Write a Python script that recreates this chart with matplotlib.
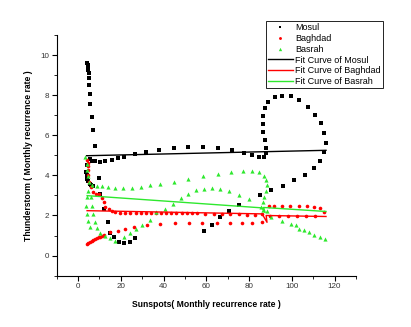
import numpy as np
import matplotlib.pyplot as plt

plt.rcParams['font.family'] = ['Liberation Sans', 'DejaVu Sans']

# Mosul (black squares)
mosul_x = [4.4, 4.6, 4.7, 4.8, 4.9, 5.0, 5.2, 5.5, 5.8, 6.4, 7.1, 7.9,
           5.6, 6.7, 8.0, 10.3, 12.6, 15.7, 18.8, 21.7, 26.7, 31.9, 37.9, 44.8,
           51.6, 58.6, 65.5, 71.8, 77.6, 81.4, 84.6, 86.9, 88.1, 88.1, 87.3, 86.6,
           86.3, 86.3, 87.3, 89.0, 92.0, 95.3, 99.4, 103.5, 107.4, 110.8, 113.7, 115.2,
           115.9, 115.2, 113.2, 110.2, 106.0, 101.1, 96.1, 90.4, 85.3, 75.1, 70.4, 66.6,
           62.7, 58.7, 26.8, 24.1, 21.3, 19.0, 16.7, 15.0, 13.8, 12.0, 10.4, 9.6,
           7.2, 6.1, 5.6, 4.8, 4.4, 4.1, 3.6, 4.0]
mosul_y = [9.58, 9.48, 9.38, 9.25, 9.12, 8.88, 8.53, 8.08, 7.55, 6.92, 6.25, 5.47,
           4.82, 4.73, 4.73, 4.68, 4.70, 4.77, 4.87, 4.92, 5.05, 5.15, 5.27, 5.37,
           5.42, 5.40, 5.35, 5.25, 5.13, 5.00, 4.92, 4.93, 5.12, 5.38, 5.75, 6.17,
           6.57, 6.97, 7.35, 7.65, 7.90, 7.98, 7.95, 7.77, 7.43, 7.03, 6.60, 6.12,
           5.63, 5.17, 4.73, 4.35, 4.00, 3.75, 3.47, 3.27, 3.04, 2.54, 2.21, 1.91,
           1.53, 1.21, 0.86, 0.66, 0.61, 0.70, 0.91, 1.11, 1.70, 2.33, 3.07, 3.85,
           3.49, 3.50, 3.57, 3.74, 3.82, 4.00, 4.17, 4.50]

# Baghdad (red circles)
baghdad_x = [4.4, 4.5, 4.6, 4.6, 4.7, 5.2, 6.0, 7.2, 8.6, 9.6, 11.0, 12.0,
             12.8, 14.3, 15.9, 17.5, 19.8, 22.1, 24.5, 26.9, 29.3, 31.7, 34.0, 36.4,
             38.8, 41.2, 43.6, 46.0, 48.4, 50.8, 53.2, 55.6, 59.6, 63.5, 67.4, 71.3,
             75.2, 79.1, 83.0, 86.1, 89.1, 91.8, 95.4, 99.3, 103.2, 107.1, 110.5, 113.4,
             114.9, 111.0, 106.8, 102.4, 98.0, 93.8, 89.9, 86.1, 81.4, 76.7, 71.2, 65.0,
             58.0, 51.7, 45.2, 38.5, 32.3, 26.0, 22.1, 18.7, 15.1, 12.0, 11.2, 10.4,
             9.6, 8.8, 8.0, 7.2, 6.4, 5.6, 4.8, 4.2]
baghdad_y = [4.75, 4.60, 4.45, 4.25, 4.00, 3.67, 3.42, 3.17, 3.05, 3.07, 2.85, 2.66,
             2.44, 2.33, 2.20, 2.15, 2.13, 2.13, 2.13, 2.12, 2.12, 2.12, 2.12, 2.13,
             2.13, 2.13, 2.12, 2.12, 2.12, 2.12, 2.11, 2.10, 2.09, 2.08, 2.07, 2.06,
             2.05, 2.04, 2.03, 2.05, 2.46, 2.46, 2.47, 2.46, 2.46, 2.45, 2.43, 2.38,
             2.16, 1.99, 1.99, 1.99, 1.99, 1.99, 1.99, 1.66, 1.61, 1.61, 1.61, 1.62,
             1.63, 1.63, 1.61, 1.58, 1.53, 1.41, 1.33, 1.25, 1.16, 1.05, 1.00, 0.95,
             0.91, 0.86, 0.82, 0.77, 0.72, 0.67, 0.62, 0.58]

# Basrah (green triangles)
basrah_x = [3.3, 4.0, 4.3, 4.6, 5.3, 6.4, 8.7, 11.2, 14.0, 17.4, 21.0, 25.0,
            29.5, 33.8, 38.2, 44.8, 51.6, 58.6, 65.4, 71.5, 77.2, 81.4, 84.6, 86.9,
            88.1, 88.2, 87.7, 86.9, 86.5, 85.7, 86.5, 88.5, 90.1, 95.4, 99.5, 101.9,
            103.5, 105.8, 108.2, 110.5, 113.4, 115.6,
            79.8, 75.1, 70.4, 66.2, 62.6, 58.8, 55.2, 51.6, 48.1, 44.5, 40.7, 36.6,
            33.5, 29.9, 27.2, 24.5, 21.3, 17.4, 15.0, 12.6, 10.3, 8.7, 8.0, 7.2,
            6.4, 6.1, 4.8, 4.0, 3.6, 4.0, 4.5, 5.6]
basrah_y = [4.93, 4.57, 4.25, 3.95, 3.65, 3.50, 3.49, 3.46, 3.43, 3.39, 3.38, 3.38,
            3.42, 3.50, 3.58, 3.67, 3.80, 3.95, 4.06, 4.15, 4.20, 4.23, 4.15, 3.97,
            3.75, 3.50, 3.22, 2.92, 2.67, 2.42, 2.25, 2.20, 1.92, 1.74, 1.60, 1.55,
            1.33, 1.28, 1.16, 1.05, 0.91, 0.82,
            2.82, 3.02, 3.20, 3.32, 3.37, 3.33, 3.25, 3.08, 2.85, 2.58, 2.33, 2.15,
            1.78, 1.53, 1.35, 1.13, 0.91, 0.75, 0.88, 1.00, 1.11, 1.38, 1.69, 2.08,
            2.49, 2.90, 3.24, 2.90, 2.49, 2.08, 1.74, 1.41]

# fit curves
fit_mosul_x = [4.0, 116.0]
fit_mosul_y = [4.98, 5.25]
fit_baghdad_x = [4.2, 86.1, 88.4, 88.0, 116.0]
fit_baghdad_y = [2.24, 2.08, 1.66, 2.00, 1.95]
fit_basrah_x = [4.2, 86.1, 87.5, 86.8, 116.0]
fit_basrah_y = [2.99, 2.38, 2.15, 2.40, 2.20]

green = '#2ee82e'

fig = plt.figure(figsize=(4.11, 3.27), dpi=100)
ax = fig.add_axes([0.138, 0.157, 0.728, 0.736])

ax.plot(mosul_x, mosul_y, 's', color='black', ms=2.4, mew=0, label='Mosul')
ax.plot(baghdad_x, baghdad_y, 'o', color='red', ms=2.6, mew=0, label='Baghdad')
ax.plot(basrah_x, basrah_y, '^', color=green, ms=3.0, mew=0, label='Basrah')
ax.plot(fit_mosul_x, fit_mosul_y, '-', color='black', lw=1.0, label='Fit Curve of Mosul')
ax.plot(fit_baghdad_x, fit_baghdad_y, '-', color='red', lw=1.0, label='Fit Curve of Baghdad')
ax.plot(fit_basrah_x, fit_basrah_y, '-', color=green, lw=1.0, label='Fit Curve of Basrah')

ax.set_xlim(-10, 130)
ax.set_ylim(-1, 11)
ax.set_xticks([0, 20, 40, 60, 80, 100, 120])
ax.set_yticks([0, 2, 4, 6, 8, 10])
ax.set_xticks(np.arange(-10, 131, 10), minor=True)
ax.set_yticks(np.arange(-1, 12, 1), minor=True)
ax.spines['top'].set_visible(False)
ax.spines['right'].set_visible(False)
for s in ['left', 'bottom']:
    ax.spines[s].set_linewidth(0.8)
ax.tick_params(which='major', direction='out', length=3.5, width=0.8,
               labelsize=5.8, labelcolor='#333333', pad=2)
ax.tick_params(which='minor', direction='out', length=2, width=0.6)

ax.set_xlabel('Sunspots( Monthly recurrence rate )', fontsize=6.2,
              fontweight='bold', labelpad=7)
ax.set_ylabel('Thunderstorm ( Monthly recurrence rate )', fontsize=6.2,
              fontweight='bold', labelpad=5)

leg = fig.legend(loc='upper left', bbox_to_anchor=(0.646, 0.936), fontsize=6.5,
                 frameon=True, fancybox=False, edgecolor='black', framealpha=1,
                 handlelength=2.8, handletextpad=0.2, labelspacing=0.2,
                 borderpad=0.25, borderaxespad=0, markerscale=0.8)
leg.get_frame().set_linewidth(0.6)

fig.savefig('out.png', dpi=100)
